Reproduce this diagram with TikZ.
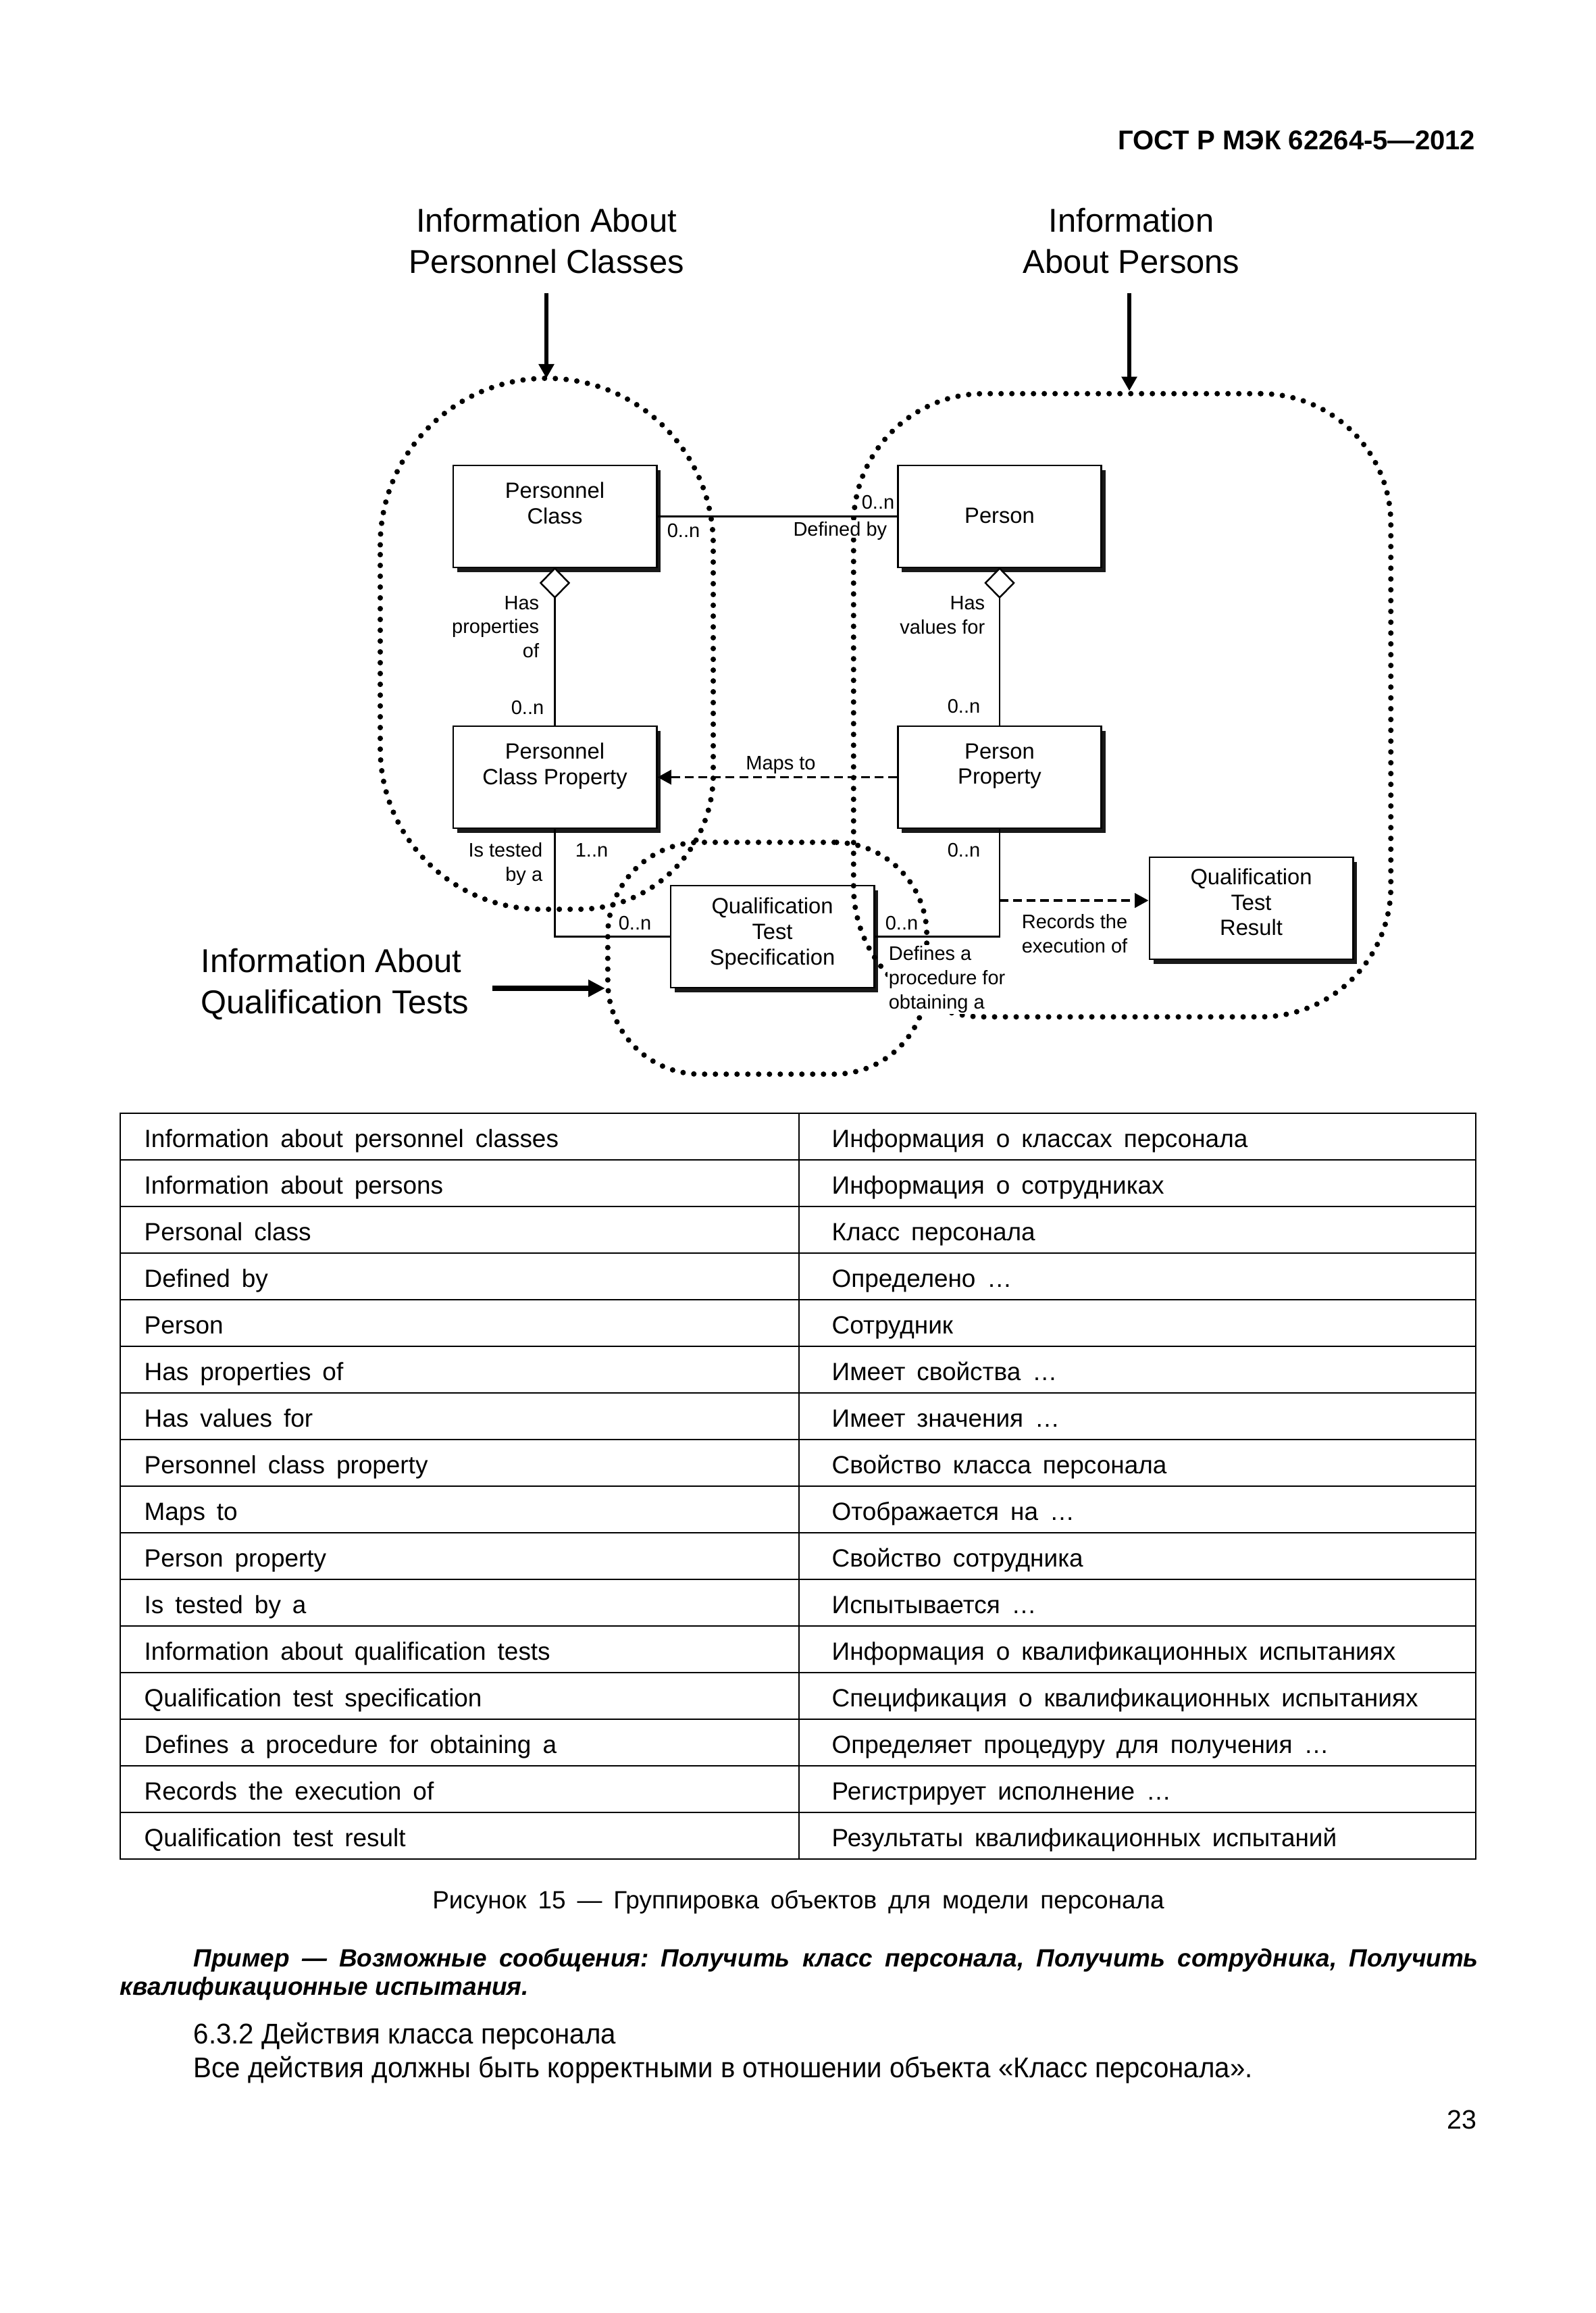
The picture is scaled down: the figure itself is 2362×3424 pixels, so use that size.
\documentclass[tikz,border=0pt]{standalone}
\usepackage{fontspec}
\usepackage{graphicx}
\setmainfont{Liberation Sans}
\usetikzlibrary{arrows.meta,shadows,shapes.geometric}
\newlength\upx
\setlength\upx{0.28453pt}
\protected\def\tblfont{\fontsize{10.5}{12}\selectfont\spaceskip=0.46em plus 0.1em\relax}
\protected\def\exfont{\fontsize{10.5}{12}\selectfont\bfseries\itshape\frenchspacing}
\tikzset{
  box/.style={draw=black, line width=0.8pt, fill=white, minimum width=301\upx, minimum height=151\upx, inner sep=0pt,
    drop shadow={shadow xshift=6\upx, shadow yshift=-7\upx, fill=black, opacity=0.9}},
  boxtxt/.style={font=\fontsize{9.3}{10.7}\selectfont, align=center, inner sep=0pt},
  boxone/.style={boxtxt, text height=6.7pt, text depth=0pt},
  lbl/.style={font=\fontsize{8.25}{10.1}\selectfont, inner sep=0.6pt, fill=white},
  lblone/.style={lbl, text height=5.95pt, text depth=0pt},
  grp/.style={draw, line width=2.3pt, line cap=round, dash pattern=on 0pt off 4.55pt, inner sep=0pt},
  titletxt/.style={font=\fontsize{13.9}{17.4}\selectfont, inner sep=0pt},
  bigarrow/.style={line width=1.7pt, -{Triangle[length=6pt,width=6.3pt]}},
  fatarrow/.style={line width=2.3pt, -{Triangle[length=7pt,width=6.8pt]}},
  assoc/.style={line width=0.7pt},
  defline/.style={line width=1pt},
  dsh/.style={line width=1.1pt, dash pattern=on 3.7pt off 2pt, -{Triangle[length=5.8pt,width=6pt]}},
  dia/.style={diamond, draw, line width=0.7pt, fill=white, minimum width=42\upx, minimum height=43\upx, inner sep=0pt, outer sep=0pt},
  tbl/.style={font=\tblfont, inner sep=0pt, text height=7.6pt, text depth=0pt, anchor=west},
  body/.style={font=\fontsize{12}{14}\selectfont, inner sep=0pt, text height=8.6pt, text depth=0pt},
  tline/.style={line width=0.75pt},
}
\begin{document}
\begin{tikzpicture}[x=0.01cm, y=-0.01cm]
\useasboundingbox[fill=white] (0,0) rectangle (2362,3424);

% header
\node[font=\fontsize{11.4}{13}\selectfont\bfseries, inner sep=0pt, text height=8.2pt, text depth=0pt, anchor=east] (hdr) at (2185,207) {ГОСТ Р МЭК 62264-5—2012};

% titles
\node[titletxt, align=center] (t1) at (809,356.5) {Information About\\Personnel Classes};
\node[titletxt, align=center] (t2) at (1675,356.5) {Information\\About Persons};
\node[titletxt, align=left, anchor=west] (t3) at (297,1457) {Information About\\Qualification Tests};

% boxes
\node[box] (pc) at (821.5,764.5) {};
\node[box] (person) at (1480,764.5) {};
\node[box] (pcp) at (821.5,1150.5) {};
\node[box] (pp) at (1480,1150.5) {};
\node[box] (qts) at (1143.5,1386.5) {};
\node[box] (qtr) at (1852.5,1344.5) {};

\node[boxtxt] (pctx) at (821.5,744.5) {Personnel\\Class};
\node[boxone] (persontx) at (1480,763) {Person};
\node[boxtxt] (pcptx) at (821.5,1134) {Personnel\\Class Property};
\node[boxtxt] (pptx) at (1480,1134) {Person\\Property};
\node[boxtxt] (qtstx) at (1143.5,1382) {Qualification\\Test\\Specification};
\node[boxtxt] (qtrtx) at (1852.5,1335.5) {Qualification\\Test\\Result};

% grouping loops
\coordinate (loopLtop) at (809.5,560);
\draw[grp] (563,806.5) arc[start angle=180, end angle=360, radius=246.5]
  -- (1056,1146) arc[start angle=0, end angle=90, radius=200]
  -- (801,1346) arc[start angle=90, end angle=180, radius=238]
  -- cycle;
\node[grp, minimum width=795\upx, minimum height=922\upx, rounded corners=54.9pt] (loopR) at (1661.5,1044) {};
\node[grp, minimum width=472\upx, minimum height=343\upx, rounded corners=39pt] (loopQ) at (1136,1418.5) {};

% labels
\node[lblone, anchor=west] (m1) at (985,785) {0..n};
\node[lblone, anchor=east] (m2) at (1327,743) {0..n};
\node[lblone, anchor=east] (defby) at (1316,783) {Defined by};
\node[lbl, align=right, anchor=east] (hasprop) at (801,928) {Has\\properties\\of};
\node[lblone, anchor=east] (m3) at (808,1047) {0..n};
\node[lbl, align=right, anchor=east] (hasval) at (1461,910.5) {Has\\values for};
\node[lblone, anchor=east] (m4) at (1454,1045) {0..n};
\node[lblone] (maps) at (1156,1129) {Maps to};
\node[lbl, align=right, anchor=east] (tested) at (806,1279) {Is tested\\by a};
\node[lblone, anchor=west] (m5) at (849,1258) {1..n};
\node[lblone, anchor=east] (m6) at (1454,1258) {0..n};
\node[lblone, anchor=west] (m7) at (913,1366) {0..n};
\node[lblone, anchor=west] (m8) at (1308,1366) {0..n};
\node[lbl, align=left, anchor=west] (defines) at (1313,1450) {Defines a\\procedure for\\obtaining a};
\node[lbl, align=center] (records) at (1591,1382) {Records the\\execution of};

% connectors
\draw[defline] (pc.east) -- (person.west);
\node[dia, anchor=north] (dia1) at (pc.south) {};
\node[dia, anchor=north] (dia2) at (person.south) {};
\draw[assoc] (dia1.south) -- (pcp.north);
\draw[assoc] (dia2.south) -- (pp.north);
\draw[dsh] (pp.west) -- (pcp.east);
\draw[assoc] (pcp.south) |- (qts.west);
\draw[assoc] (pp.south) |- (qts.east);
\coordinate (rec) at (1480,1333);
\draw[dsh] (rec) -- (rec -| qtr.west);

% title arrows
\draw[bigarrow] ([yshift=-28\upx]t1.south) -- (t1.south |- loopLtop);
\draw[bigarrow] ([xshift=-3\upx,yshift=-28\upx]t2.south) -- ([xshift=-3\upx]t2.south |- loopR.north);
\coordinate (qa) at (729,1463);
\draw[fatarrow] (qa) -- (qa -| loopQ.west);

% table grid
\draw[tline] (178,1648) rectangle (2185,2752);
\foreach \yy in {1717,1786,1855,1924,1993,2062,2131,2200,2269,2338,2407,2476,2545,2614,2683}
  {\draw[tline] (178,\yy) -- (2185,\yy);}
\draw[line width=0.5pt] (1183,1648) -- (1183,2752);

% table text
\node[tbl] (tl1) at (213,1685.5) {Information about personnel classes};
\node[tbl] (tr1) at (1231,1685.5) {Информация о классах персонала};
\node[tbl] (tl2) at (213,1754.5) {Information about persons};
\node[tbl] (tr2) at (1231,1754.5) {Информация о сотрудниках};
\node[tbl] (tl3) at (213,1823.5) {Personal class};
\node[tbl] (tr3) at (1231,1823.5) {Класс персонала};
\node[tbl] (tl4) at (213,1892.5) {Defined by};
\node[tbl] (tr4) at (1231,1892.5) {Определено …};
\node[tbl] (tl5) at (213,1961.5) {Person};
\node[tbl] (tr5) at (1231,1961.5) {Сотрудник};
\node[tbl] (tl6) at (213,2030.5) {Has properties of};
\node[tbl] (tr6) at (1231,2030.5) {Имеет свойства …};
\node[tbl] (tl7) at (213,2099.5) {Has values for};
\node[tbl] (tr7) at (1231,2099.5) {Имеет значения …};
\node[tbl] (tl8) at (213,2168.5) {Personnel class property};
\node[tbl] (tr8) at (1231,2168.5) {Свойство класса персонала};
\node[tbl] (tl9) at (213,2237.5) {Maps to};
\node[tbl] (tr9) at (1231,2237.5) {Отображается на …};
\node[tbl] (tl10) at (213,2306.5) {Person property};
\node[tbl] (tr10) at (1231,2306.5) {Свойство сотрудника};
\node[tbl] (tl11) at (213,2375.5) {Is tested by a};
\node[tbl] (tr11) at (1231,2375.5) {Испытывается …};
\node[tbl] (tl12) at (213,2444.5) {Information about qualification tests};
\node[tbl] (tr12) at (1231,2444.5) {Информация о квалификационных испытаниях};
\node[tbl] (tl13) at (213,2513.5) {Qualification test specification};
\node[tbl] (tr13) at (1231,2513.5) {Спецификация о квалификационных испытаниях};
\node[tbl] (tl14) at (213,2582.5) {Defines a procedure for obtaining a};
\node[tbl] (tr14) at (1231,2582.5) {Определяет процедуру для получения …};
\node[tbl] (tl15) at (213,2651.5) {Records the execution of};
\node[tbl] (tr15) at (1231,2651.5) {Регистрирует исполнение …};
\node[tbl] (tl16) at (213,2720.5) {Qualification test result};
\node[tbl] (tr16) at (1231,2720.5) {Результаты квалификационных испытаний};

% caption and text below
\node[tbl, anchor=center] (cap) at (1182,2812) {Рисунок 15 — Группировка объектов для модели персонала};
\node[tbl, font=\exfont] (ex1) at (286,2898) {\makebox[1901\upx][s]{Пример — Возможные сообщения: Получить класс персонала, Получить сотрудника, Получить}};
\node[tbl, font=\exfont] (ex2) at (177,2940) {квалификационные испытания.};
\node[body, anchor=west] (sec) at (286,3010) {\scalebox{0.953}[1]{6.3.2 Действия класса персонала}};
\node[body, anchor=west] (par) at (286,3060) {\scalebox{0.953}[1]{Все действия должны быть корректными в отношении объекта «Класс персонала».}};
\node[font=\fontsize{11.2}{13}\selectfont, inner sep=0pt, text height=8pt, text depth=0pt, anchor=east] (pg) at (2187,3137) {23};
\end{tikzpicture}
\end{document}
